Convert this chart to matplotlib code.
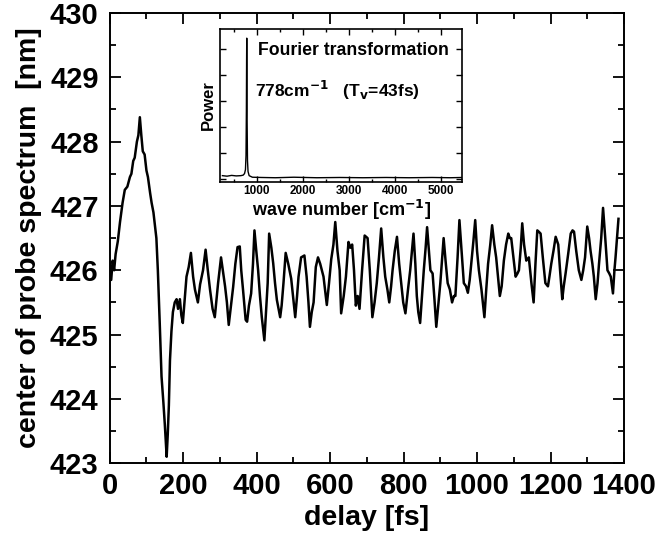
import numpy as np
import matplotlib
matplotlib.use("Agg")
import matplotlib.pyplot as plt
from matplotlib.ticker import MultipleLocator

plt.rcParams['font.family'] = ['Liberation Sans', 'DejaVu Sans']
plt.rcParams['font.weight'] = 'bold'
plt.rcParams['mathtext.default'] = 'bf'

# main trace: delay [fs] vs center of probe spectrum [nm]
delay = [0, 4, 8, 12, 16, 22, 28, 35, 41, 48, 55, 59, 64, 68, 74, 78, 82, 86, 90, 95,
         100, 104, 110, 114, 119, 123, 127, 131, 136, 141, 146, 150, 153, 155, 158, 161,
         164, 168, 172, 177, 182, 186, 191, 195, 199, 205, 209, 215, 221, 227, 232, 240,
         246, 254, 261, 267, 273, 280, 286, 295, 303, 309, 314, 319, 324, 330, 336, 342,
         348, 354, 358, 363, 370, 374, 379, 385, 390, 394, 399, 404, 409, 414, 421, 426,
         430, 434, 440, 445, 450, 455, 464, 468, 473, 479, 486, 494, 500, 505, 510, 514,
         521, 530, 536, 541, 545, 550, 555, 561, 567, 573, 582, 588, 591, 597, 603, 609,
         614, 620, 626, 630, 637, 643, 650, 655, 660, 665, 670, 675, 680, 687, 694, 702,
         708, 715, 721, 727, 733, 739, 745, 750, 756, 761, 766, 770, 776, 782, 788, 794,
         799, 805, 812, 818, 822, 827, 832, 836, 840, 845, 850, 855, 860, 864, 869, 873,
         879, 884, 889, 895, 900, 905, 909, 915, 920, 926, 932, 937, 941, 947, 952, 958,
         964, 970, 975, 980, 985, 990, 995, 1000, 1005, 1012, 1020, 1025, 1030, 1036,
         1041, 1047, 1052, 1057, 1062, 1067, 1073, 1079, 1085, 1089, 1093, 1099, 1105,
         1110, 1114, 1119, 1123, 1128, 1134, 1141, 1148, 1154, 1159, 1164, 1168, 1173,
         1179, 1186, 1193, 1197, 1202, 1208, 1214, 1221, 1226, 1232, 1236, 1241, 1248,
         1255, 1260, 1264, 1270, 1277, 1284, 1289, 1294, 1300, 1305, 1309, 1314, 1318,
         1323, 1328, 1332, 1338, 1343, 1349, 1355, 1360, 1364, 1370, 1374, 1377, 1381, 1385]
center = [426.1, 425.85, 426.15, 426.0, 426.25, 426.45, 426.75, 427.05, 427.25, 427.3,
          427.45, 427.5, 427.7, 427.75, 428.0, 428.1, 428.38, 428.1, 427.85, 427.8,
          427.55, 427.45, 427.2, 427.05, 426.9, 426.7, 426.5, 426.0, 425.2, 424.35,
          423.95, 423.6, 423.3, 423.1, 423.45, 423.9, 424.6, 425.05, 425.35, 425.5,
          425.55, 425.4, 425.55, 425.3, 425.18, 425.6, 425.9, 426.05, 426.27, 425.9,
          425.7, 425.5, 425.78, 426.0, 426.32, 426.0, 425.7, 425.4, 425.27, 425.8,
          426.2, 425.95, 425.75, 425.5, 425.15, 425.45, 425.74, 426.1, 426.36, 426.37,
          426.0, 425.69, 425.23, 425.2, 425.45, 425.64, 426.1, 426.62, 426.3, 426.0,
          425.6, 425.27, 424.91, 425.4, 425.8, 426.57, 426.35, 426.11, 425.8, 425.54,
          425.27, 425.45, 425.8, 426.27, 426.1, 425.87, 425.55, 425.27, 425.6, 425.9,
          426.2, 426.23, 425.9, 425.5, 425.12, 425.35, 425.5, 426.05, 426.2, 426.1,
          425.9, 425.6, 425.46, 425.8, 426.17, 426.4, 426.75, 426.3, 426.0, 425.33,
          425.6, 425.9, 426.44, 426.35, 426.4, 426.0, 425.45, 425.6, 425.4, 426.0,
          426.54, 426.5, 426.0, 425.27, 425.5, 425.8, 426.2, 426.65, 426.2, 425.9,
          425.7, 425.5, 425.75, 426.0, 426.3, 426.52, 426.1, 425.77, 425.5, 425.33,
          425.7, 426.0, 426.25, 426.57, 426.1, 425.6, 425.35, 425.18, 425.6, 426.0,
          426.35, 426.67, 426.3, 426.0, 425.95, 425.55, 425.12, 425.5, 425.8, 426.2,
          426.5, 426.1, 425.8, 425.7, 425.5, 425.6, 425.6, 426.2, 426.78, 426.3,
          425.8, 425.75, 425.65, 425.85, 426.15, 426.45, 426.78, 426.3, 426.0, 425.7,
          425.27, 425.7, 426.1, 426.4, 426.7, 426.4, 426.2, 425.9, 425.6, 425.75,
          426.15, 426.4, 426.57, 426.5, 426.5, 426.2, 425.9, 425.95, 426.0, 426.35,
          426.73, 426.4, 426.15, 426.2, 425.8, 425.5, 426.1, 426.62, 426.6, 426.57,
          426.2, 425.8, 425.75, 425.9, 426.1, 426.3, 426.52, 426.4, 426.0, 425.55,
          425.75, 425.95, 426.25, 426.57, 426.62, 426.6, 426.3, 426.0, 425.85, 426.0,
          426.2, 426.68, 426.5, 426.3, 426.1, 425.9, 425.55, 425.8, 426.1, 426.5,
          426.97, 426.5, 426.0, 425.95, 425.9, 425.64, 426.0, 426.2, 426.5, 426.8]

# inset: Fourier transformation of the trace
wavenumber = [250, 350, 450, 550, 650, 700, 730, 750, 762, 770, 775, 778, 781, 786,
              794, 806, 830, 900, 1100, 1400, 1800, 2300, 2800, 3300, 3800, 4300,
              4800, 5200, 5450]
power = [0.12, 0.1, 0.13, 0.11, 0.12, 0.14, 0.2, 0.35, 0.9, 2.6, 4.6, 5.4, 4.4, 2.2,
         0.7, 0.28, 0.12, 0.06, 0.05, 0.04, 0.06, 0.04, 0.05, 0.04, 0.05, 0.04,
         0.05, 0.04, 0.05]

fig = plt.figure(figsize=(6.61, 5.43), dpi=100)
ax = fig.add_axes([0.166, 0.147, 0.778, 0.829])
ax.plot(delay, center, color='black', lw=1.8)
ax.set_xlim(0, 1400)
ax.set_ylim(423, 430)
ax.xaxis.set_major_locator(MultipleLocator(200))
ax.xaxis.set_minor_locator(MultipleLocator(100))
ax.yaxis.set_major_locator(MultipleLocator(1))
ax.yaxis.set_minor_locator(MultipleLocator(0.5))
ax.tick_params(which='both', direction='in', top=True, right=True, width=1.3)
ax.tick_params(which='major', length=8, labelsize=21)
ax.tick_params(axis='y', which='major', pad=8)
ax.tick_params(axis='x', which='major', pad=6)
ax.tick_params(which='minor', length=4.5)
for s in ax.spines.values():
    s.set_linewidth(1.4)
ax.set_xlabel('delay [fs]', fontsize=20.5, fontweight='bold', labelpad=4)
ax.set_ylabel('center of probe spectrum  [nm]', fontsize=20.5, fontweight='bold', labelpad=6)

ins = fig.add_axes([0.333, 0.665, 0.366, 0.282])
ins.plot(wavenumber, power, color='black', lw=1.0)
ins.set_xlim(200, 5450)
ins.set_ylim(-0.12, 5.76)
ins.xaxis.set_major_locator(MultipleLocator(1000))
ins.xaxis.set_minor_locator(MultipleLocator(500))
ins.yaxis.set_major_locator(MultipleLocator(1))
ins.set_yticklabels([])
ins.tick_params(which='both', direction='in', top=True, right=True, width=1.0)
ins.tick_params(which='major', length=4, labelsize=8.5, pad=2)
ins.tick_params(which='minor', length=2)
for s in ins.spines.values():
    s.set_linewidth(1.2)
ins.set_xlabel('wave number [cm$^{-1}$]', fontsize=13, fontweight='bold', labelpad=1)
ins.set_ylabel('Power', fontsize=12, fontweight='bold', labelpad=1)
ins.text(0.157, 0.86, 'Fourier transformation', transform=ins.transAxes,
         fontsize=12.7, fontweight='bold', ha='left', va='center')
ins.text(0.145, 0.60, '778cm$^{-1}$   (T$_v$=43fs)', transform=ins.transAxes,
         fontsize=12.5, fontweight='bold', ha='left', va='center')

fig.savefig('out.png', dpi=100)
